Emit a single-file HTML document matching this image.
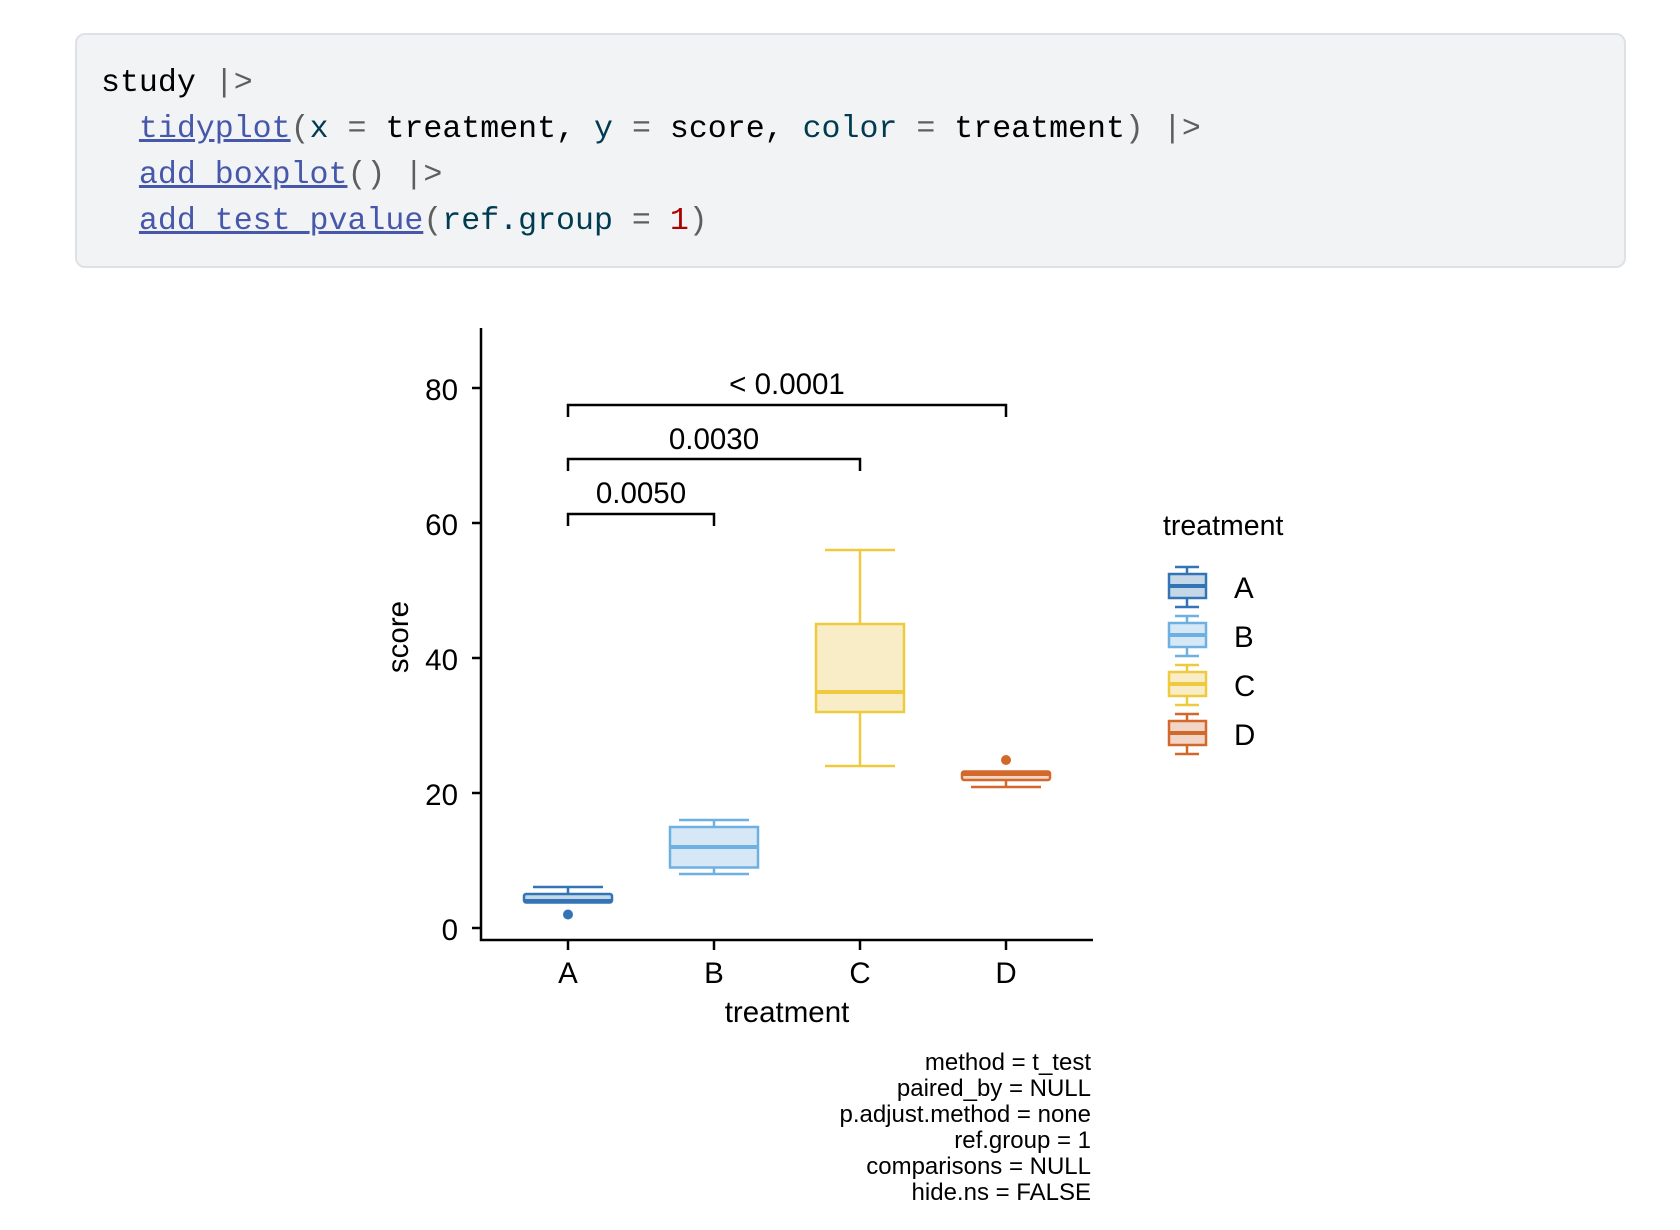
<!DOCTYPE html>
<html><head><meta charset="utf-8"><style>
html,body{margin:0;padding:0;background:#fff;width:1680px;height:1230px;overflow:hidden}
.code{position:absolute;left:75px;top:33px;width:1551px;height:235px;background:#f1f3f5;border:2px solid #dee2e6;border-radius:10px;box-sizing:border-box}
.code pre{margin:0;position:absolute;left:24px;top:26px;font-family:"Liberation Mono",monospace;font-size:31.6px;line-height:46px;color:#000}
.fn{color:#4758AB;text-decoration:underline;text-decoration-color:#4758AB}
.p{color:#5e5e5e}.a{color:#003B4F}.n{color:#AD0000}
svg{position:absolute;left:0;top:0}
</style></head><body>
<div class="code"><pre>study <span class="p">|&gt;</span>
  <span class="fn">tidyplot</span><span class="p">(</span><span class="a">x</span> <span class="p">=</span> treatment, <span class="a">y</span> <span class="p">=</span> score, <span class="a">color</span> <span class="p">=</span> treatment<span class="p">)</span> <span class="p">|&gt;</span>
  <span class="fn">add_boxplot</span><span class="p">()</span> <span class="p">|&gt;</span>
  <span class="fn">add_test_pvalue</span><span class="p">(</span><span class="a">ref.group</span> <span class="p">=</span> <span class="n">1</span><span class="p">)</span></pre></div>
<svg width="1680" height="1230" font-family="Liberation Sans, Arial, sans-serif">
<g stroke="#000" stroke-width="2.5" fill="none">
<polyline points="481,328 481,940 1093,940"/>
<line x1="472" y1="388" x2="481" y2="388"/><line x1="472" y1="523" x2="481" y2="523"/><line x1="472" y1="658" x2="481" y2="658"/><line x1="472" y1="793" x2="481" y2="793"/><line x1="472" y1="928" x2="481" y2="928"/>
<line x1="568" y1="940" x2="568" y2="950"/><line x1="714" y1="940" x2="714" y2="950"/><line x1="860" y1="940" x2="860" y2="950"/><line x1="1006" y1="940" x2="1006" y2="950"/>
<polyline points="568,417 568,405 1006,405 1006,417"/>
<polyline points="568,471 568,459 860,459 860,471"/>
<polyline points="568,526 568,514 714,514 714,526"/>
</g>
<g font-size="29.5" fill="#000">
<g text-anchor="end"><text x="458" y="400">80</text><text x="458" y="535">60</text><text x="458" y="670">40</text><text x="458" y="805">20</text><text x="458" y="940">0</text></g>
<g text-anchor="middle"><text x="568" y="983">A</text><text x="714" y="983">B</text><text x="860" y="983">C</text><text x="1006" y="983">D</text>
<text x="787" y="1022">treatment</text>
<text x="787" y="394">&lt; 0.0001</text><text x="714" y="449">0.0030</text><text x="641" y="503">0.0050</text>
<text transform="translate(408,637) rotate(-90)">score</text></g>
</g>
<g stroke="#3274b5" stroke-width="2.5">
<line x1="568" y1="887" x2="568" y2="894"/><line x1="533" y1="887" x2="603" y2="887"/>
<rect x="524" y="894" width="88" height="8.5" rx="2" fill="#c6d7e8"/>
<line x1="524" y1="901" x2="612" y2="901" stroke-width="4"/>
</g><circle cx="568" cy="914.5" r="5" fill="#3274b5"/>
<g stroke="#6fb0e3" stroke-width="2.5">
<line x1="714" y1="820" x2="714" y2="827"/><line x1="679" y1="820" x2="749" y2="820"/>
<line x1="714" y1="867" x2="714" y2="874"/><line x1="679" y1="874" x2="749" y2="874"/>
<rect x="670" y="827" width="88" height="40.5" fill="#d6e8f6"/>
<line x1="670" y1="847" x2="758" y2="847" stroke-width="4"/>
</g>
<g stroke="#efc93e" stroke-width="2.5">
<line x1="860" y1="550" x2="860" y2="624"/><line x1="825" y1="550" x2="895" y2="550"/>
<line x1="860" y1="712" x2="860" y2="766"/><line x1="825" y1="766" x2="895" y2="766"/>
<rect x="816" y="624" width="88" height="88" fill="#f8edc6"/>
<line x1="816" y1="692" x2="904" y2="692" stroke-width="4"/>
</g>
<g stroke="#d2692b" stroke-width="2.5">
<line x1="1006" y1="780" x2="1006" y2="787"/><line x1="971" y1="787" x2="1041" y2="787"/>
<rect x="962" y="771.5" width="88" height="8.5" rx="2" fill="#f1d6c8"/>
<line x1="962" y1="774" x2="1050" y2="774" stroke-width="4"/>
</g><circle cx="1006" cy="760" r="5" fill="#d2692b"/>
<text x="1163" y="535" font-size="28.5">treatment</text>
<g stroke-width="2.5">
<g stroke="#3274b5"><line x1="1175" y1="567" x2="1199" y2="567"/><line x1="1187" y1="567" x2="1187" y2="607"/><line x1="1175" y1="607" x2="1199" y2="607"/><rect x="1169" y="574" width="37" height="24" fill="#c6d7e8"/><line x1="1169" y1="586" x2="1206" y2="586" stroke-width="4"/></g>
<g stroke="#6fb0e3" transform="translate(0,49)"><line x1="1175" y1="567" x2="1199" y2="567"/><line x1="1187" y1="567" x2="1187" y2="607"/><line x1="1175" y1="607" x2="1199" y2="607"/><rect x="1169" y="574" width="37" height="24" fill="#d6e8f6"/><line x1="1169" y1="586" x2="1206" y2="586" stroke-width="4"/></g>
<g stroke="#efc93e" transform="translate(0,98)"><line x1="1175" y1="567" x2="1199" y2="567"/><line x1="1187" y1="567" x2="1187" y2="607"/><line x1="1175" y1="607" x2="1199" y2="607"/><rect x="1169" y="574" width="37" height="24" fill="#f8edc6"/><line x1="1169" y1="586" x2="1206" y2="586" stroke-width="4"/></g>
<g stroke="#d2692b" transform="translate(0,147)"><line x1="1175" y1="567" x2="1199" y2="567"/><line x1="1187" y1="567" x2="1187" y2="607"/><line x1="1175" y1="607" x2="1199" y2="607"/><rect x="1169" y="574" width="37" height="24" fill="#f1d6c8"/><line x1="1169" y1="586" x2="1206" y2="586" stroke-width="4"/></g>
</g>
<g font-size="29.5"><text x="1234" y="598">A</text><text x="1234" y="647">B</text><text x="1234" y="696">C</text><text x="1234" y="745">D</text></g>
<g font-size="24" text-anchor="end">
<text x="1091" y="1070">method = t_test</text>
<text x="1091" y="1096">paired_by = NULL</text>
<text x="1091" y="1122">p.adjust.method = none</text>
<text x="1091" y="1148">ref.group = 1</text>
<text x="1091" y="1174">comparisons = NULL</text>
<text x="1091" y="1200">hide.ns = FALSE</text>
</g>
</svg>
</body></html>
